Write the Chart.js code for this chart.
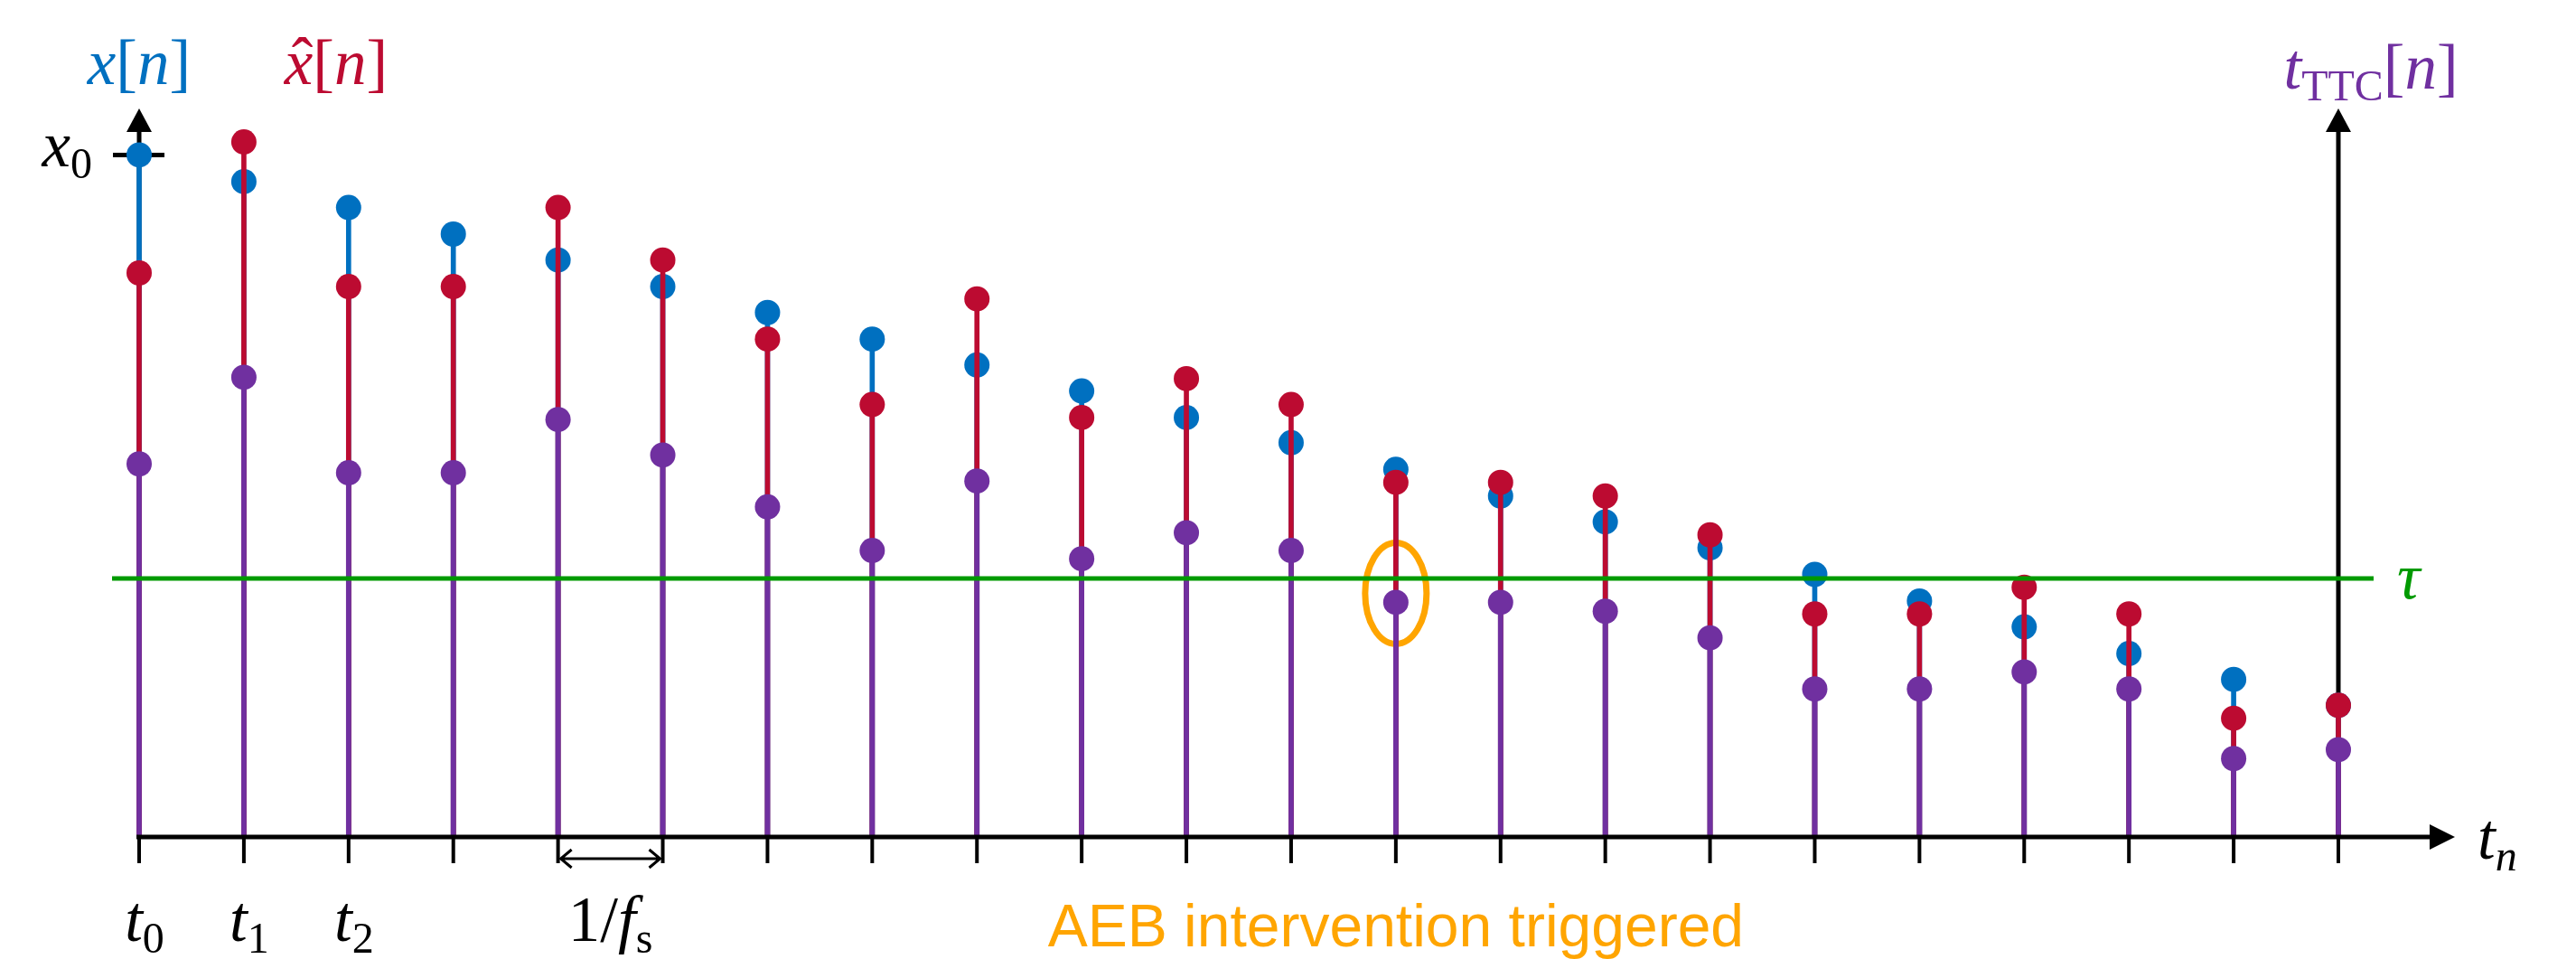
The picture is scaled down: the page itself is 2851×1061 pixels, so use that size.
<!DOCTYPE html>
<html>
<head>
<meta charset="utf-8">
<script src="https://cdn.jsdelivr.net/npm/chart.js@4"></script>
<style>
  html, body { margin: 0; padding: 0; background: #fff; }
  canvas { display: block; }
</style>
</head>
<body>
<canvas id="chart" width="2851" height="1061"></canvas>
<script>
// sample index n (t_n)
const samples = ['0', '1', '2', '3', '4', '5', '6', '7', '8', '9', '10',
                 '11', '12', '13', '14', '15', '16', '17', '18', '19', '20', '21'];
// measured distance x[n] (x0 = 100)
const xTrue = [100, 96.1, 92.3, 88.4, 84.6, 80.7, 76.9, 73.0, 69.2, 65.4, 61.5,
               57.8, 53.9, 50.0, 46.2, 42.4, 38.5, 34.6, 30.8, 26.9, 23.1, 19.3];
// estimated distance x^[n]
const xEst = [82.7, 101.9, 80.7, 80.7, 92.3, 84.6, 73.0, 63.4, 78.9, 61.5, 67.2,
              63.4, 52.0, 52.0, 50.0, 44.3, 32.7, 32.7, 36.6, 32.7, 17.4, 19.3];
// time to collision t_TTC[n]
const tTTC = [54.7, 67.4, 53.4, 53.4, 61.2, 56.0, 48.4, 42.0, 52.2, 40.8, 44.6,
              42.0, 34.4, 34.4, 33.1, 29.2, 21.7, 21.7, 24.2, 21.7, 11.5, 12.8];
const x0Value = 100;
const tau = 37.9;
const triggerIndex = 12;
const tickNames = ['0', '1', '2'];

const BLUE = '#0070C0';
const RED = '#BC0B31';
const PURPLE = '#7030A0';
const GREEN = '#009A00';
const ORANGE = '#FFA500';
const SERIF = '"Liberation Serif", "DejaVu Serif", serif';

function stem(data, color, order) {
    return { type: 'bar', data: data, backgroundColor: color, barThickness: 5,
             grouped: false, order: order, clip: false };
}

function dots(data, color, order) {
    return { type: 'line', data: data, showLine: false, pointRadius: 14,
             pointHoverRadius: 14, pointBackgroundColor: color, pointBorderWidth: 0,
             borderColor: color, order: order, clip: false };
}

function partFont(kind) {
    const size = kind[0] === 's' ? 48 : 71;
    const style = kind.indexOf('i') >= 0 ? 'italic ' : '';
    return style + size + 'px ' + SERIF;
}

// parts: [text, kind] with kind r/i (roman/italic), sr/si (subscript), hi (italic with hat)
function drawMath(ctx, parts, x, y, color, align) {
    ctx.save();
    ctx.fillStyle = color;
    ctx.textAlign = 'left';
    ctx.textBaseline = 'alphabetic';
    const widths = parts.map(p => { ctx.font = partFont(p[1]); return ctx.measureText(p[0]).width; });
    const total = widths.reduce((a, b) => a + b, 0);
    let cx = align === 'center' ? x - total / 2 : align === 'right' ? x - total : x;
    parts.forEach((p, i) => {
        ctx.font = partFont(p[1]);
        ctx.fillText(p[0], cx, p[1][0] === 's' ? y + 13 : y);
        if (p[1] === 'hi') {
            ctx.font = '71px ' + SERIF;
            ctx.textAlign = 'center';
            ctx.fillText('\u02C6', cx + widths[i] / 2 + 4, y - 2);
            ctx.textAlign = 'left';
        }
        cx += widths[i];
    });
    ctx.restore();
}

function arrowHead(ctx, tipX, tipY, dir) {
    // dir: 'up' or 'right'
    ctx.beginPath();
    if (dir === 'up') {
        ctx.moveTo(tipX, tipY);
        ctx.lineTo(tipX - 14, tipY + 26);
        ctx.lineTo(tipX + 14, tipY + 26);
    } else {
        ctx.moveTo(tipX, tipY);
        ctx.lineTo(tipX - 28, tipY - 14);
        ctx.lineTo(tipX - 28, tipY + 14);
    }
    ctx.closePath();
    ctx.fill();
}

const diagram = {
    id: 'diagram',
    beforeDatasetsDraw(chart) {
        const ctx = chart.ctx;
        const x = chart.scales.x, y = chart.scales.y;
        const xl = x.getPixelForValue(0);
        const xr = x.getPixelForValue(samples.length - 1);
        const y0 = y.getPixelForValue(0);
        const tip = chart.chartArea.top + 24;
        ctx.save();
        ctx.strokeStyle = '#000';
        ctx.fillStyle = '#000';
        ctx.lineWidth = 5;
        // left and right vertical axes
        [xl, xr].forEach(px => {
            ctx.beginPath();
            ctx.moveTo(px, y0);
            ctx.lineTo(px, tip + 20);
            ctx.stroke();
            arrowHead(ctx, px, tip, 'up');
        });
        // x0 tick
        const yx0 = y.getPixelForValue(x0Value);
        ctx.beginPath();
        ctx.moveTo(xl - 29, yx0);
        ctx.lineTo(xl + 28, yx0);
        ctx.stroke();
        // AEB trigger ellipse
        ctx.strokeStyle = ORANGE;
        ctx.lineWidth = 7;
        ctx.beginPath();
        ctx.ellipse(x.getPixelForValue(triggerIndex), y.getPixelForValue(tTTC[triggerIndex]) - 10,
                    34, 56, 0, 0, Math.PI * 2);
        ctx.stroke();
        ctx.restore();
    },
    afterDatasetsDraw(chart) {
        const ctx = chart.ctx;
        const x = chart.scales.x, y = chart.scales.y;
        const xl = x.getPixelForValue(0);
        const xr = x.getPixelForValue(samples.length - 1);
        const y0 = y.getPixelForValue(0);
        const yTau = y.getPixelForValue(tau);
        ctx.save();
        // threshold line
        ctx.strokeStyle = GREEN;
        ctx.lineWidth = 5;
        ctx.beginPath();
        ctx.moveTo(xl - 30, yTau);
        ctx.lineTo(xr + 39, yTau);
        ctx.stroke();
        // time axis
        ctx.strokeStyle = '#000';
        ctx.fillStyle = '#000';
        ctx.lineWidth = 5;
        ctx.beginPath();
        ctx.moveTo(xl - 3, y0);
        ctx.lineTo(xr + 110, y0);
        ctx.stroke();
        arrowHead(ctx, xr + 129, y0, 'right');
        ctx.lineWidth = 4;
        samples.forEach((s, i) => {
            const px = x.getPixelForValue(i);
            ctx.beginPath();
            ctx.moveTo(px, y0);
            ctx.lineTo(px, y0 + 29);
            ctx.stroke();
        });
        // 1/fs double arrow
        const a = x.getPixelForValue(4) + 3, b = x.getPixelForValue(5) - 3, ya = y0 + 24;
        ctx.lineWidth = 3;
        ctx.beginPath();
        ctx.moveTo(a, ya); ctx.lineTo(b, ya);
        ctx.moveTo(a + 12, ya - 10); ctx.lineTo(a, ya); ctx.lineTo(a + 12, ya + 10);
        ctx.moveTo(b - 12, ya - 10); ctx.lineTo(b, ya); ctx.lineTo(b - 12, ya + 10);
        ctx.stroke();
        ctx.restore();

        // labels
        drawMath(ctx, [['x', 'i'], ['[', 'r'], ['n', 'i'], [']', 'r']], xl, 93, BLUE, 'center');
        drawMath(ctx, [['x', 'hi'], ['[', 'r'], ['n', 'i'], [']', 'r']], xl + 218, 93, RED, 'center');
        drawMath(ctx, [['t', 'i'], ['TTC', 'sr'], ['[', 'r'], ['n', 'i'], [']', 'r']], xr + 36, 98, PURPLE, 'center');
        drawMath(ctx, [['x', 'i'], ['0', 'sr']], xl - 52, y.getPixelForValue(x0Value) + 13, '#000', 'right');
        drawMath(ctx, [['\u03C4', 'i']], xr + 65, yTau + 22, GREEN, 'left');
        drawMath(ctx, [['t', 'i'], ['n', 'si']], xr + 154, y0 + 24, '#000', 'left');
        tickNames.forEach((name, i) => {
            drawMath(ctx, [['t', 'i'], [name, 'sr']], x.getPixelForValue(i) + 6, y0 + 115, '#000', 'center');
        });
        drawMath(ctx, [['1/', 'r'], ['f', 'i'], ['s', 'sr']],
                 (x.getPixelForValue(4) + x.getPixelForValue(5)) / 2, y0 + 115, '#000', 'center');

        ctx.save();
        ctx.fillStyle = ORANGE;
        ctx.font = '66px "Liberation Sans", Arial, sans-serif';
        ctx.textAlign = 'center';
        ctx.textBaseline = 'alphabetic';
        ctx.fillText('AEB intervention triggered', x.getPixelForValue(triggerIndex), y0 + 121);
        ctx.restore();
    }
};

new Chart(document.getElementById('chart'), {
    type: 'bar',
    data: {
        labels: samples,
        datasets: [
            stem(xTrue, BLUE, 6), dots(xTrue, BLUE, 5),
            stem(xEst, RED, 4), dots(xEst, RED, 3),
            stem(tTTC, PURPLE, 2), dots(tTTC, PURPLE, 1)
        ]
    },
    options: {
        responsive: false,
        animation: false,
        devicePixelRatio: 1,
        layout: { padding: { left: 154, right: 263, top: 96, bottom: 135 } },
        plugins: { legend: { display: false }, tooltip: { enabled: false } },
        scales: {
            x: { type: 'category', offset: false, display: false },
            y: { min: 0, max: 110, display: false }
        }
    },
    plugins: [diagram]
});
</script>
</body>
</html>
